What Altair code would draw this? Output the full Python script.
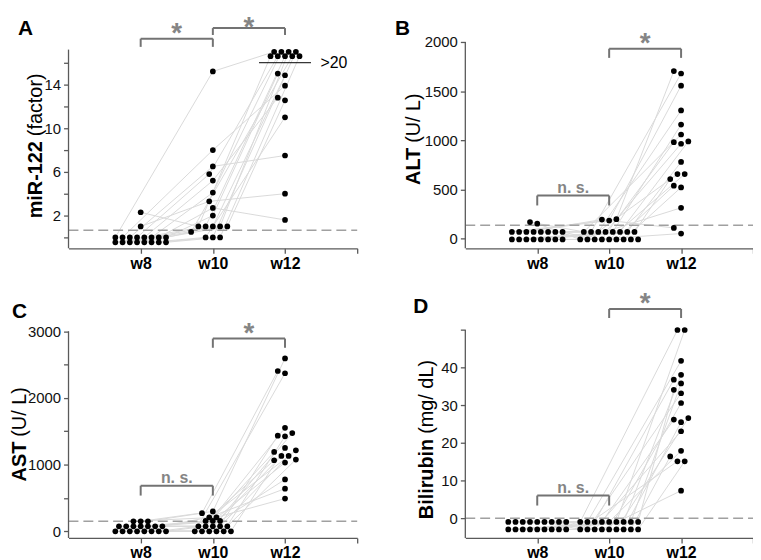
import json
import altair as alt
import pandas as pd

weeks = ["w8", "w10", "w12"]

# ---- Panel A: miR-122 (factor) ; one entry per animal (same order in each list)
a_w8 = [2.3, 1.0, 0, 0, 0, 0, 0, 0, 0, 0, -0.45, -0.45, -0.45, -0.45, -0.45, -0.45, -0.45, -0.45]
a_w10 = [1.0, 3.3, 15.2, 8.0, 6.5, 5.8, 5.2, 4.1, 2.7, 2.0, 1.0, 1.0, 1.0, 1.0, 0.5, 0, 0, 0]
a_w12 = [16.6, 4.0, 17.0, 13.9, 7.5, 16.6, 12.8, 17.0, 1.6, 15.0, 16.6, 14.85, 17.0, 12.55, 16.6, 11.0, 17.0, 16.6]

# ---- Panel B: ALT (U/L)
b_w8 = [167, 151, 67, 67, 67, 67, 67, 67, 67, 67, -10, -10, -10, -10, -10, -10, -10, -10, None, None]
b_w10 = [67, -10, 196, 183, 192, 67, 67, 67, -10, -10, 67, 67, 67, 67, -10, -10, -10, -10, -10, -10]
b_w12 = [1058, 312, 1704, 1555, 107, 1679, 1303, 964, 655, 50, 1159, 988, 779, 605, 980, 655, 537, 520, None, None]

# ---- Panel C: AST (U/L)
c_w8 = [0, 0, 0, 0, 0, 0, 0, 0, 75, 75, 75, 75, 75, 75, 75, 150, 150, 150]
c_w10 = [0, 0, 0, 0, 0, 0, 75, 75, 75, 75, 75, 155, 155, 155, 210, 210, 298, 272]
c_w12 = [2371, 1552, 1473, 1435, 1425, 1250, 1214, 1190, 1131, 1131, 1076, 1066, 1031, 778, 640, 491, 2594, 2405]

# ---- Panel D: Bilirubin (mg/dL)
d_w8 = [-1, -1, -1, -1, -1, -1, -1, -1, -1, -3, -3, -3, -3, -3, -3, -3, -3, -3]
d_w10 = [-1, -1, -1, -1, -1, -3, -3, -3, -3, -1, -1, -1, -1, -3, -3, -3, -3, -3]
d_w12 = [50, 41.8, 36.8, 26.2, 17.9, 15.1, 33.2, 23.1, 7.3, 50, 38.1, 35.8, 34.1, 30.6, 26.6, 25.5, 16.4, 15.1]

# significance brackets: (from week, to week, bracket level, leg end, label, label pixel shift)
a_brackets = [(1, 2, 18.2, 17.45, "*", 3), (2, 3, 19.17, 18.54, "*", 7.5)]
b_brackets = [(1, 2, 437, 336, "n. s.", -2.5), (2, 3, 1931, 1838, "*", 3)]
c_brackets = [(1, 2, 684, 536, "n. s.", -2.5), (2, 3, 2891, 2753, "*", 3)]
d_brackets = [(1, 2, 6.0, 3.35, "n. s.", -2.5), (2, 3, 55.6, 53.2, "*", 3)]

FONT = "Liberation Sans"
AX = "#5a5a5a"
SIG = "#858585"
DOT_GAP = 7.3

panels = [
    dict(letter="A", bold="miR-122", reg="(factor)", series=[a_w8, a_w10, a_w12],
         w=291, h=208, ydom=[-1, 17.9], ytop=17.2, ticks=[0, 2, 4, 6, 8, 10, 12, 14, 16],
         labels=[2, 6, 10, 14], thr=0.66, brackets=a_brackets,
         tx=-27, ty=100, lx=-51, ly=-7, cap=(16.0, 2.64, 3.36, 3.49, ">20")),
    dict(letter="B", bold="ALT", reg="(U/ L)", series=[b_w8, b_w10, b_w12],
         w=290, h=208, ydom=[-100, 2000], ytop=2000, ticks=[0, 500, 1000, 1500, 2000],
         labels=[0, 500, 1000, 1500, 2000], thr=134, brackets=b_brackets,
         tx=-46, ty=106.7, lx=-71, ly=-7, cap=None),
    dict(letter="C", bold="AST", reg="(U/ L)", series=[c_w8, c_w10, c_w12],
         w=291, h=210, ydom=[-100, 3025], ytop=3000, ticks=[0, 500, 1000, 1500, 2000, 2500, 3000],
         labels=[0, 1000, 2000, 3000], thr=149, brackets=c_brackets,
         tx=-43, ty=113, lx=-57, ly=-11.7, cap=None),
    dict(letter="D", bold="Bilirubin", reg="(mg/ dL)", series=[d_w8, d_w10, d_w12],
         w=290, h=210, ydom=[-5.27, 50.1], ytop=50, ticks=[0, 10, 20, 30, 40, 50],
         labels=[0, 10, 20, 30, 40], thr=0, brackets=d_brackets,
         tx=-32.6, ty=110, lx=-52.6, ly=-16.7, cap=None),
]


def swarm(vals, px_x, px_y, d=DOT_GAP):
    """Dot-plot layout: tied values form centred rows, others dodge sideways."""
    offs = [None] * len(vals)
    placed = []
    counts = {}
    for v in vals:
        if v is not None:
            counts[v] = counts.get(v, 0) + 1
    for v, c in counts.items():
        if c > 1:
            idx = [i for i, u in enumerate(vals) if u == v]
            for k, i in enumerate(idx):
                o = (k - (c - 1) / 2) * d
                offs[i] = o
                placed.append((o, v * px_y))
    cands = [0.0]
    for k in range(1, 40):
        cands += [-k * d / 2, k * d / 2]
    singles = sorted([i for i, v in enumerate(vals) if v is not None and counts[v] == 1],
                     key=lambda i: vals[i])
    for i in singles:
        y = vals[i] * px_y
        for c in cands:
            if all((c - px) ** 2 + (y - py) ** 2 >= (0.95 * d) ** 2 for px, py in placed):
                break
        offs[i] = c
        placed.append((c, y))
    return [None if o is None else o / px_x for o in offs]


def build(p):
    w, h = p["w"], p["h"]
    lo, hi = p["ydom"]
    px_x, px_y = w / 4.0, h / (hi - lo)
    rows = []
    for wi, vals in enumerate(p["series"]):
        offs = swarm(vals, px_x, px_y)
        for s, (v, o) in enumerate(zip(vals, offs)):
            if v is None:
                continue
            rows.append({"subject": s, "wk": wi + 1, "value": v, "x": wi + 1 + o})
    df = pd.DataFrame(rows)

    xs = alt.Scale(domain=[0, 4], nice=False, zero=False)
    ys = alt.Scale(domain=[lo, hi], nice=False, zero=False)

    lab_arr = json.dumps([""] + weeks + [""])
    x_axis = alt.Axis(values=[1, 2, 3, 4], labelExpr=f"{lab_arr}[datum.value]", title=None,
                      grid=False, domainColor=AX, domainWidth=1.3, tickColor=AX, tickWidth=1.3,
                      tickSize=5, labelFont=FONT, labelFontSize=16, labelFontWeight="bold",
                      labelColor="black", labelPadding=2, labelOverlap=False)
    y_axis = alt.Axis(values=p["ticks"], format="d",
                      labelExpr=f"indexof({json.dumps(p['labels'])}, datum.value) >= 0 ? datum.label : ''",
                      title=None, grid=False, domain=False, tickColor=AX, tickWidth=1.3, tickSize=5,
                      labelFont=FONT, labelFontSize=15, labelColor="#111111", labelPadding=3,
                      labelOverlap=False)
    X = lambda f: alt.X(f, scale=xs, axis=x_axis)
    Y = lambda f: alt.Y(f, scale=ys, axis=y_axis)

    lines = alt.Chart(df).mark_line(color="#dadada", strokeWidth=1).encode(
        x=X("x:Q"), y=Y("value:Q"), detail="subject:N", order="wk:Q")
    thr = alt.Chart(pd.DataFrame({"x0": [0], "x1": [4], "y": [p["thr"]]})).mark_rule(
        color="#a0a0a0", strokeDash=[10, 5], strokeWidth=1.5).encode(
        x=X("x0:Q"), x2="x1:Q", y=Y("y:Q"))
    ydom = alt.Chart(pd.DataFrame({"x": [0], "y0": [lo], "y1": [p["ytop"]]})).mark_rule(
        color=AX, strokeWidth=1.3).encode(x=X("x:Q"), y=Y("y0:Q"), y2="y1:Q")
    pts = alt.Chart(df).mark_circle(size=33, color="black", opacity=1).encode(
        x=X("x:Q"), y=Y("value:Q"))

    br = pd.DataFrame([{"a": a, "b": b, "top": t, "leg": l, "mid": (a + b) / 2, "lab": s,
                        "ly": t - sh / px_y}
                       for a, b, t, l, s, sh in p["brackets"]])
    legs = pd.DataFrame([{"x": xx, "top": t, "leg": l}
                         for a, b, t, l, s, sh in p["brackets"] for xx in (a, b)])
    hbar = alt.Chart(br).mark_rule(color="#737373", strokeWidth=2).encode(
        x=X("a:Q"), x2="b:Q", y=Y("top:Q"))
    vleg = alt.Chart(legs).mark_rule(color="#737373", strokeWidth=2).encode(
        x=X("x:Q"), y=Y("top:Q"), y2="leg:Q")
    star = alt.Chart(br[br["lab"] == "*"]).mark_text(
        font=FONT, fontSize=28, fontWeight="bold", color=SIG, baseline="alphabetic").encode(
        x=X("mid:Q"), y=Y("ly:Q"), text="lab:N")
    ns = alt.Chart(br[br["lab"] != "*"]).mark_text(
        font=FONT, fontSize=16, fontWeight="bold", color=SIG, baseline="alphabetic").encode(
        x=X("mid:Q"), y=Y("ly:Q"), text="lab:N")

    one = pd.DataFrame({"k": [0]})
    t_bold = alt.Chart(one).mark_text(
        text=p["bold"], font=FONT, fontSize=20, fontWeight="bold", angle=270, align="right",
        baseline="alphabetic", color="black").encode(x=alt.value(p["tx"]), y=alt.value(p["ty"]))
    t_reg = alt.Chart(one).mark_text(
        text=p["reg"], font=FONT, fontSize=20, angle=270, align="left",
        baseline="alphabetic", color="black").encode(x=alt.value(p["tx"]), y=alt.value(p["ty"] - 5))
    letter = alt.Chart(one).mark_text(
        text=p["letter"], font=FONT, fontSize=21, fontWeight="bold", align="left",
        baseline="alphabetic", color="black").encode(x=alt.value(p["lx"]), y=alt.value(p["ly"]))

    layers = [lines, thr, ydom, hbar, vleg, star, ns, pts, t_bold, t_reg, letter]
    if p["cap"]:
        yv, xa, xb, xt, txt = p["cap"]
        cap = pd.DataFrame({"xa": [xa], "xb": [xb], "xt": [xt], "y": [yv], "t": [txt]})
        layers.append(alt.Chart(cap).mark_rule(color="black", strokeWidth=1).encode(
            x=X("xa:Q"), x2="xb:Q", y=Y("y:Q")))
        layers.append(alt.Chart(cap).mark_text(
            font=FONT, fontSize=16, align="left", baseline="middle", color="black").encode(
            x=X("xt:Q"), y=Y("y:Q"), text="t:N"))
    return alt.layer(*layers).properties(width=w, height=h)


chart = alt.concat(*[build(p) for p in panels], columns=2,
                   spacing={"row": 82, "column": 109}, bounds="flush").configure_view(
    stroke=None).properties(padding={"left": 2, "top": 3, "right": -1, "bottom": 0})

chart.save("out.html", embed_options={"renderer": "svg", "actions": False})
